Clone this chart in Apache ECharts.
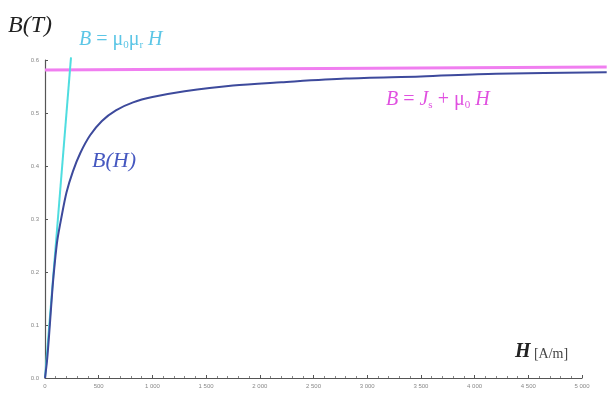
<!DOCTYPE html>
<html>
<head>
<meta charset="utf-8">
<script src="https://cdn.jsdelivr.net/npm/echarts@6/dist/echarts.min.js"></script>
<style>
  html, body { margin: 0; padding: 0; background: #fff; }
  #chart { width: 607px; height: 399px; }
</style>
</head>
<body>
<div id="chart"></div>
<script>
// H values in A/m, B values in tesla
const curveH = [0, 20, 45, 70, 90, 115, 150, 200, 260, 330, 420, 530, 660, 820, 1000, 1300, 1750, 2200, 2800, 3500, 4200, 5230];
const curveB = [0, 0.035, 0.10, 0.17, 0.215, 0.26, 0.30, 0.35, 0.39, 0.425, 0.458, 0.485, 0.505, 0.52, 0.530, 0.541, 0.552, 0.558, 0.565, 0.569, 0.574, 0.577];

const initialH = [0, 242];
const initialB = [0, 0.605];

const satH = [0, 5230];
const satB = [0.581, 0.587];

const xTicks = ['0', '500', '1 000', '1 500', '2 000', '2 500', '3 000', '3 500', '4 000', '4 500', '5 000'];
const yTicks = ['0.0', '0.1', '0.2', '0.3', '0.4', '0.5', '0.6'];

const pairs = (xs, ys) => xs.map((x, i) => [x, ys[i]]);

const chart = echarts.init(document.getElementById('chart'));
const serif = '"Liberation Serif", "DejaVu Serif", serif';

// the curves run past the 5 000 tick to the right edge, so they sit on a
// second, hidden grid whose x range is stretched to match the visible axis
const axisW = 607 - 45 - 25;
const wideMax = 5000 * (607 - 45) / axisW;

chart.setOption({
  animation: false,
  grid: [
    { left: 45, right: 25, top: 60, bottom: 21 },
    { left: 45, right: 0, top: 60, bottom: 21 }
  ],
  xAxis: [
    {
      type: 'value', gridIndex: 0,
      min: 0, max: 5000, interval: 500,
      axisLine: { show: true, lineStyle: { color: '#555', width: 1.2 } },
      axisTick: { show: true, length: 3, inside: true, lineStyle: { color: '#555' } },
      minorTick: { show: true, splitNumber: 5, length: 2, lineStyle: { color: '#888' } },
      splitLine: { show: false },
      axisLabel: {
        fontSize: 6, color: '#888', margin: 5,
        formatter: (v) => xTicks[Math.round(v / 500)]
      }
    },
    {
      type: 'value', gridIndex: 1, min: 0, max: wideMax, show: false
    }
  ],
  yAxis: [
    {
      type: 'value', gridIndex: 0,
      min: 0, max: 0.6, interval: 0.1,
      axisLine: { show: true, lineStyle: { color: '#555', width: 1.2 } },
      axisTick: { show: true, length: 3, inside: true, lineStyle: { color: '#555' } },
      splitLine: { show: false },
      axisLabel: {
        fontSize: 6, color: '#888', margin: 6,
        formatter: (v) => yTicks[Math.round(v * 10)]
      }
    },
    {
      type: 'value', gridIndex: 1, min: 0, max: 0.6, show: false
    }
  ],
  series: [
    {
      type: 'line', xAxisIndex: 1, yAxisIndex: 1, data: pairs(satH, satB), clip: false,
      showSymbol: false, lineStyle: { color: '#f07ef0', width: 3 }
    },
    {
      type: 'line', xAxisIndex: 1, yAxisIndex: 1, data: pairs(initialH, initialB), clip: false,
      showSymbol: false, lineStyle: { color: '#4fdde0', width: 2 }
    },
    {
      type: 'line', xAxisIndex: 1, yAxisIndex: 1, data: pairs(curveH, curveB), clip: false,
      smooth: 0.3,
      showSymbol: false, lineStyle: { color: '#3d4a9c', width: 2 }
    }
  ],
  graphic: [
    {
      type: 'text', left: 8, top: 14,
      style: { text: 'B(T)', font: 'italic 24px ' + serif, fill: '#222' }
    },
    {
      type: 'text', left: 79, top: 30,
      style: {
        text: '{i|B} = μ{s|0}μ{s|r} {i|H}',
        fill: '#5cc6e6', font: '20px ' + serif,
        rich: {
          i: { fontStyle: 'italic', fontSize: 20, fontFamily: serif, fill: '#5cc6e6' },
          s: { fontSize: 11, fontFamily: serif, fill: '#5cc6e6', padding: [10, 0, 0, 0] }
        }
      }
    },
    {
      type: 'text', left: 92, top: 150,
      style: { text: 'B(H)', font: 'italic 22px ' + serif, fill: '#4658c0' }
    },
    {
      type: 'text', left: 386, top: 90,
      style: {
        text: '{i|B} = {i|J}{s|s} + μ{s|0} {i|H}',
        fill: '#e050e0', font: '20px ' + serif,
        rich: {
          i: { fontStyle: 'italic', fontSize: 20, fontFamily: serif, fill: '#e050e0' },
          s: { fontSize: 11, fontFamily: serif, fill: '#e050e0', padding: [10, 0, 0, 0] }
        }
      }
    },
    {
      type: 'text', left: 515, top: 342,
      style: {
        text: '{h|H} {u|[A/m]}',
        rich: {
          h: { fontStyle: 'italic', fontWeight: 'bold', fontSize: 20, fontFamily: serif, fill: '#222' },
          u: { fontSize: 14, fontFamily: serif, fill: '#444', padding: [4, 0, 0, 0] }
        }
      }
    }
  ]
});
</script>
</body>
</html>
